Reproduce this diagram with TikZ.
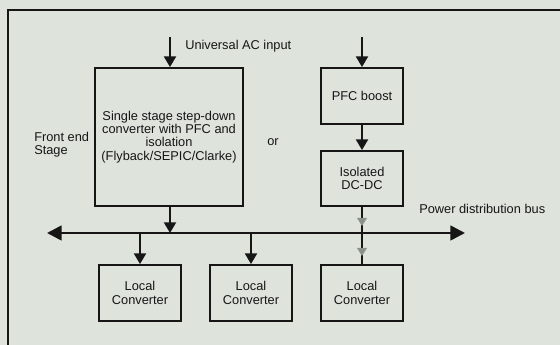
\documentclass[tikz,border=0pt]{standalone}
\usepackage{fontspec}
\setmainfont{Liberation Sans}
\usetikzlibrary{arrows.meta}
\definecolor{bgc}{HTML}{DEE3DC}
\definecolor{ink}{HTML}{161616}
\definecolor{ghost}{HTML}{8C918A}
\tikzset{
  txt/.style={text=ink, font=\fontsize{9.6}{10}\selectfont, inner sep=0pt},
  blk/.style={draw=ink, line width=1.4pt, align=center, txt},
  smallblk/.style={blk, minimum width=61.5pt, minimum height=42pt},
  conn/.style={draw=ink, line width=1.5pt, -{Triangle[width=9pt,length=8pt]}},
  plain/.style={draw=ink, line width=1.5pt},
  buspath/.style={draw=ink, line width=2pt, {Triangle[width=11pt,length=11pt]}-{Triangle[width=11pt,length=11pt]}},
  frame/.style={draw=ink, line width=1.4pt}
}
\begin{document}
\begin{tikzpicture}[x=0.75pt,y=-0.75pt]
\fill[bgc] (0,0) rectangle (560,345);
\useasboundingbox (0,0) rectangle (560,345);
% frame
\draw[frame] (8,350) -- (8,10) -- (570,10);
% blocks
\node[blk, minimum width=111pt, minimum height=103.5pt] (big) at (169,137)
  {Single stage step-down\\converter with PFC and\\isolation\\(Flyback/SEPIC/Clarke)};
\node[smallblk, minimum height=42pt] (pfc) at (362,96) {PFC boost};
\node[smallblk, minimum height=41.25pt] (iso) at (362,178.5) {Isolated\\DC-DC};
\node[smallblk] (lc1) at (140,293) {Local\\Converter};
\node[smallblk] (lc2) at (251,293) {Local\\Converter};
\node[smallblk] (lc3) at (362,293) {Local\\Converter};
% labels
\node[txt, anchor=west] (acin) at (185,46) {Universal AC input};
\node[txt, anchor=west, align=left] (fes) at (34,144.5) {Front end\\Stage};
\node[txt] (or) at (273,142) {or};
\node[txt, anchor=west] (pdb) at (419,209) {Power distribution bus};
% input arrows
\coordinate (in1) at (170,37);
\coordinate (in2) at (362,37);
\draw[conn] (in1) -- (in1 |- big.north);
\draw[conn] (in2) -- (pfc.north);
\draw[conn] (pfc.south) -- (iso.north);
% bus
\coordinate (busL) at (47,233);
\coordinate (busR) at (465,233);
\draw[buspath] (busL) -- (busR);
\draw[conn] (big.south -| in1) -- (in1 |- busL);
\draw[conn] (lc1.north |- busL) -- (lc1.north);
\draw[conn] (lc2.north |- busL) -- (lc2.north);
\draw[plain] (iso.south) -- (lc3.north);
% faint arrowheads on the isolated branch
\fill[ghost] (357,218) -- (367,218) -- (362,226) -- cycle;
\fill[ghost] (357,248) -- (367,248) -- (362,256) -- cycle;
\end{tikzpicture}
\end{document}
